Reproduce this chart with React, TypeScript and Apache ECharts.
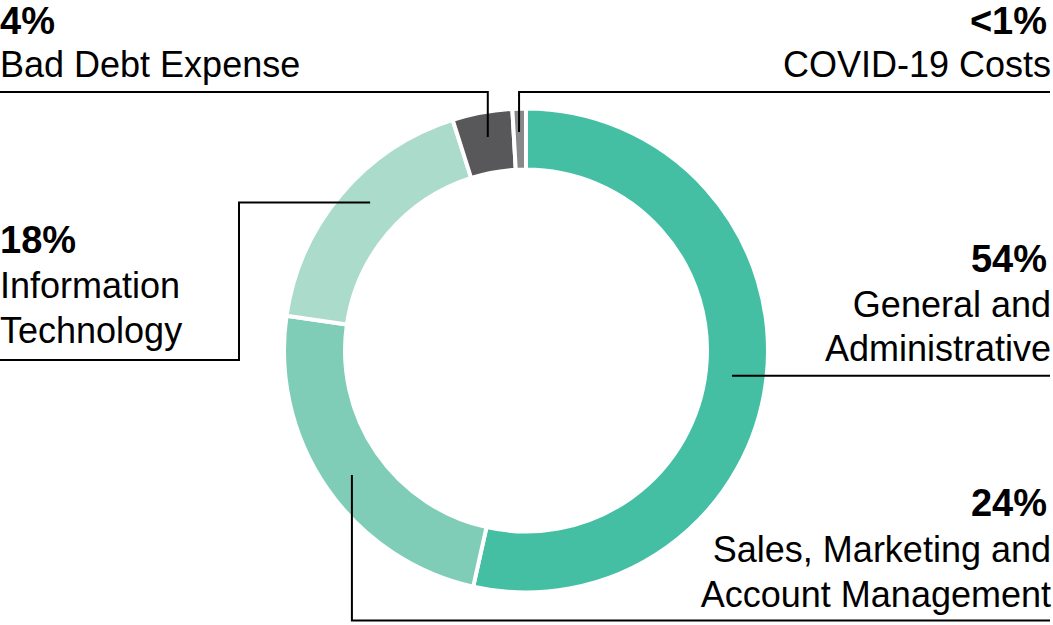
import React, { useEffect, useRef } from "react";
import * as echarts from "echarts";

// ---- data ----
const categories = [
  "General and Administrative",
  "Sales, Marketing and Account Management",
  "Information Technology",
  "Bad Debt Expense",
  "COVID-19 Costs",
];
const values = [53.5, 23.8, 17.8, 4.0, 0.9];
const percentLabels = ["54%", "24%", "18%", "4%", "<1%"];
const nameLines = [
  ["General and", "Administrative"],
  ["Sales, Marketing and", "Account Management"],
  ["Information", "Technology"],
  ["Bad Debt Expense"],
  ["COVID-19 Costs"],
];
const colors = ["#45BFA3", "#80CDB7", "#ABDBCB", "#58585A", "#88888B"];

// ---- layout ----
const W = 1053;
const H = 625;
const CX = 526;
const CY = 350.5;
const R_IN = 181;
const R_OUT = 242;
const FONT = "Liberation Sans, Arial, sans-serif";
const PCT_SIZE = 38;
const NAME_SIZE = 36;

type Pt = [number, number];
const labelLayout: {
  align: "left" | "right";
  textX: number;
  pctX: number;
  baselines: number[];
  nudge: number;
  ar: number;
  route: (a: Pt) => Pt[];
}[] = [
  { align: "right", textX: 1051, pctX: 1047, baselines: [272, 317, 361], nudge: 0.7, ar: 207.5, route: (a) => [a, [1050, a[1]]] },
  { align: "right", textX: 1051, pctX: 1047, baselines: [516, 562, 607], nudge: -1.0, ar: 214, route: (a) => [a, [a[0], 620.5], [1050, 620.5]] },
  { align: "left", textX: 0, pctX: 0, baselines: [252.7, 298, 343], nudge: 3.2, ar: 215, route: (a) => [a, [239, a[1]], [239, 360], [0, 360]] },
  { align: "left", textX: 0, pctX: 0, baselines: [34.5, 77], nudge: 0.3, ar: 217, route: (a) => [a, [a[0], 92], [0, 92]] },
  { align: "right", textX: 1051, pctX: 1047, baselines: [34.5, 77], nudge: -0.2, ar: 218.5, route: (a) => [a, [a[0], 92], [1050, 92]] },
];

function buildGraphics() {
  const total = values.reduce((s, v) => s + v, 0);
  const els: any[] = [];
  let cum = 0;
  values.forEach((v, i) => {
    const L = labelLayout[i];
    const mid = ((cum + v / 2) / total) * 360 + L.nudge;
    cum += v;
    const rad = (mid * Math.PI) / 180;
    const anchor: Pt = [CX + L.ar * Math.sin(rad), CY - L.ar * Math.cos(rad)];
    els.push({
      type: "polyline",
      silent: true,
      shape: { points: L.route(anchor) },
      style: { stroke: "#000", lineWidth: 2, fill: null },
      z: 10,
    });
    const lines = [percentLabels[i], ...nameLines[i]];
    lines.forEach((t, j) => {
      const size = j === 0 ? PCT_SIZE : NAME_SIZE;
      els.push({
        type: "text",
        silent: true,
        style: {
          text: t,
          x: j === 0 ? L.pctX : L.textX,
          y: L.baselines[j] - 0.3465 * size,
          fill: "#000",
          fontFamily: FONT,
          fontSize: size,
          fontWeight: j === 0 ? "bold" : "normal",
          align: L.align,
          verticalAlign: "middle",
        },
        z: 10,
      });
    });
  });
  return els;
}

export default function App() {
  const ref = useRef<HTMLDivElement>(null);
  useEffect(() => {
    document.body.style.margin = "0";
    if (!ref.current) return;
    const chart = echarts.init(ref.current, null, { renderer: "svg" });
    chart.setOption({
      animation: false,
      backgroundColor: "#fff",
      series: [
        {
          type: "pie",
          center: [CX, CY],
          radius: [R_IN, R_OUT],
          startAngle: 90,
          clockwise: true,
          silent: true,
          avoidLabelOverlap: false,
          label: { show: false },
          labelLine: { show: false },
          emphasis: { disabled: true },
          itemStyle: { borderColor: "#fff", borderWidth: 4 },
          data: categories.map((name, i) => ({
            name,
            value: values[i],
            itemStyle: { color: colors[i] },
          })),
        },
      ],
      graphic: buildGraphics(),
    });
    return () => chart.dispose();
  }, []);
  return (
    <div
      ref={ref}
      style={{ position: "fixed", left: 0, top: 0, width: W, height: H }}
    />
  );
}
